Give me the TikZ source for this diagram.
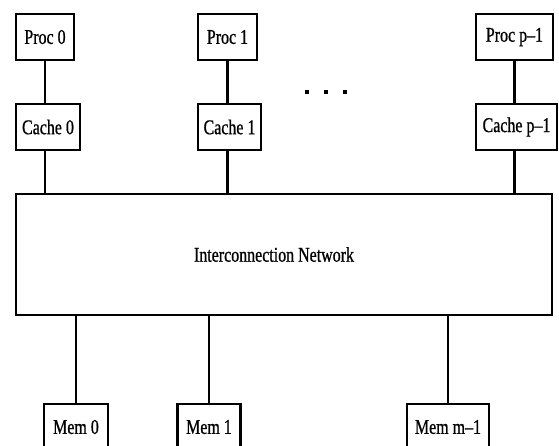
\documentclass[tikz,border=0pt]{standalone}
\usepackage{fontspec}
\setmainfont[FakeStretch=0.76, FakeBold=0.8]{Liberation Serif}
\begin{document}
\begin{tikzpicture}[x=1pt, y=-1pt, line width=2.4pt]
  \useasboundingbox (0, 0) rectangle (559, 445);
  \fontsize{21}{25}\selectfont

  % Stile.
  \tikzstyle{box}=[draw, inner sep=0pt, minimum height=46pt, fill=white]

  % Prozessoren.
  \node[box, minimum width=58pt] (proc0) at (45, 37) {Proc 0};
  \node[box, minimum width=59pt] (proc1) at (227.5, 37) {Proc 1};
  \node[box, minimum width=77pt] (procp) at (514.5, 37) {Proc p--1};

  % Caches.
  \node[box, minimum width=64pt] (cache0) at (48, 127) {Cache 0};
  \node[box, minimum width=63pt] (cache1) at (229.5, 127) {Cache 1};
  \node[box, minimum width=81pt] (cachep) at (516.5, 127) {Cache p--1};

  % Punkte.
  \foreach \x in {305, 324, 343}
    \fill (\x, 90) rectangle ++(3.5, 3.5);

  % Netzwerk.
  \node[box, minimum width=536pt, minimum height=121pt] (net) at (284, 254.5)
    {Interconnection Network\hspace*{20pt}};

  % Speicher.
  \node[box, minimum width=64pt] (mem0) at (76, 427) {Mem 0};
  \node[box, minimum width=63pt] (mem1) at (209, 427) {Mem 1};
  \node[box, minimum width=82pt] (memm) at (448, 427) {Mem m--1};

  % Verbindungen.
  \draw (proc0.south) -- (proc0.south |- cache0.north);
  \draw (proc1.south) -- (proc1.south |- cache1.north);
  \draw (procp.south) -- (procp.south |- cachep.north);

  \draw (proc0 |- cache0.south) -- (proc0 |- net.north);
  \draw (proc1 |- cache1.south) -- (proc1 |- net.north);
  \draw (procp |- cachep.south) -- (procp |- net.north);

  \draw (mem0 |- net.south) -- (mem0.north);
  \draw (mem1 |- net.south) -- (mem1.north);
  \draw (memm |- net.south) -- (memm.north);
\end{tikzpicture}
\end{document}
